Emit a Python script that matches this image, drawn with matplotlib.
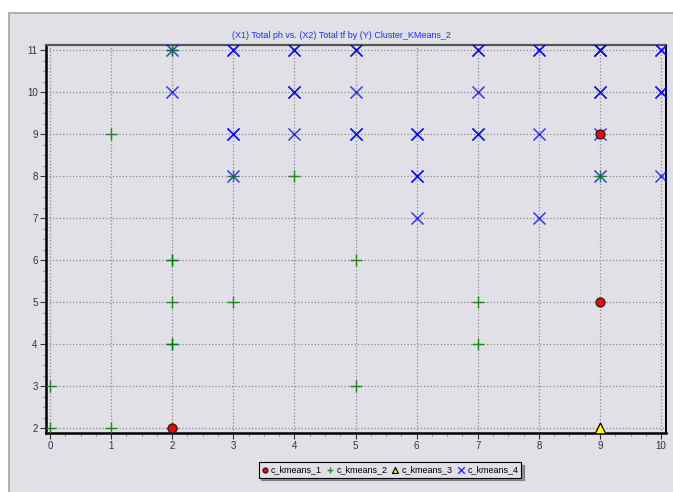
import matplotlib
matplotlib.use("Agg")
import matplotlib.pyplot as plt
from matplotlib.patches import Rectangle
from matplotlib.ticker import MultipleLocator

plt.rcParams['font.family'] = ['Liberation Sans', 'DejaVu Sans']

# cluster members (x = Total ph, y = Total tf), repeated points are drawn twice
km1_x = [2, 9, 9]
km1_y = [2, 9, 5]

km2_x = [0, 0, 1, 1, 2, 2, 2, 2, 2, 2, 2, 2, 3, 3, 4, 5, 5, 7, 7, 9]
km2_y = [2, 3, 2, 9, 2, 4, 4, 5, 6, 6, 11, 11, 5, 8, 8, 3, 6, 4, 5, 8]

km3_x = [9]
km3_y = [2]

km4_x = [2, 2, 3, 3, 3, 3, 3, 4, 4, 4, 4, 4, 5, 5, 5, 5, 5, 6, 6, 6, 6, 6,
         7, 7, 7, 7, 7, 8, 8, 8, 8, 9, 9, 9, 9, 9, 9, 9, 10, 10, 10, 10, 10]
km4_y = [10, 11, 8, 9, 9, 11, 11, 9, 10, 10, 11, 11, 9, 9, 10, 11, 11, 7, 8, 8, 9, 9,
         9, 9, 10, 11, 11, 7, 9, 11, 11, 8, 9, 10, 10, 11, 11, 11, 8, 10, 10, 11, 11]

title = "(X1) Total ph vs. (X2) Total tf by (Y) Cluster_KMeans_2"
labels = ["c_kmeans_1", "c_kmeans_2", "c_kmeans_3", "c_kmeans_4"]

fig = plt.figure(figsize=(6.73, 4.92), dpi=100)
fig.patch.set_facecolor("white")

# grey panel behind the chart, running off the right and bottom edges
panel = Rectangle((9 / 673, -0.1), 1.1, 1.1 - 13 / 492, transform=fig.transFigure,
                  facecolor="#e0e0e6", edgecolor="#b0b0b0", linewidth=1.4, zorder=-10)
fig.patches.append(panel)

ax = fig.add_axes([46 / 673, 1 - 433 / 492, 620 / 673, 388 / 492])
ax.set_facecolor("#e0e0e6")

ax.scatter(km4_x, km4_y, marker="x", s=75, color="#0000ff", linewidths=1.1,
           alpha=0.75, zorder=3, label=labels[3])
ax.scatter(km2_x, km2_y, marker="+", s=70, color="#008000", linewidths=1.0,
           alpha=0.85, zorder=4, label=labels[1])
ax.scatter(km1_x, km1_y, marker="o", s=42, facecolor="#ff0000", edgecolor="#202020",
           linewidths=0.9, zorder=5, label=labels[0])
ax.scatter(km3_x, km3_y, marker="^", s=60, facecolor="#ffff00", edgecolor="black",
           linewidths=0.9, zorder=5, label=labels[2])

ax.set_xlim(-0.065, 10.08)
ax.set_ylim(1.89, 11.12)
ax.xaxis.set_major_locator(MultipleLocator(1))
ax.yaxis.set_major_locator(MultipleLocator(1))
ax.xaxis.set_minor_locator(MultipleLocator(0.25))
ax.yaxis.set_minor_locator(MultipleLocator(0.25))
ax.tick_params(which="major", direction="out", length=4, width=0.8, labelsize=7,
               colors="#333333", pad=2)
ax.tick_params(which="minor", direction="out", length=2, width=0.6, colors="#777777")
ax.grid(True, which="major", linestyle=":", color="#8a8a8a", linewidth=0.9)

for side in ["left", "bottom"]:
    ax.spines[side].set_linewidth(1.8)
    ax.spines[side].set_color("black")
ax.spines["top"].set_linewidth(1.6)
ax.spines["top"].set_color("#555555")
ax.spines["right"].set_linewidth(1.4)
ax.spines["right"].set_color("black")

fig.text(341 / 673, 1 - 35 / 492, title, ha="center", va="center",
         fontsize=6.5, color="#2a2aff")

handles, _ = ax.get_legend_handles_labels()
order = [2, 1, 3, 0]
leg = fig.legend([handles[i] for i in order], labels, loc="center",
                 bbox_to_anchor=(390 / 673, 1 - 470 / 492), ncol=4, fontsize=6.5,
                 frameon=True, fancybox=False, shadow=True, handlelength=0.6,
                 handletextpad=0.4, columnspacing=0.6, borderpad=0.35,
                 markerscale=0.55)
leg.get_frame().set_facecolor("#e0e0e6")
leg.get_frame().set_edgecolor("black")
leg.get_frame().set_linewidth(0.8)

fig.savefig("out.png", dpi=100, facecolor=fig.get_facecolor())
